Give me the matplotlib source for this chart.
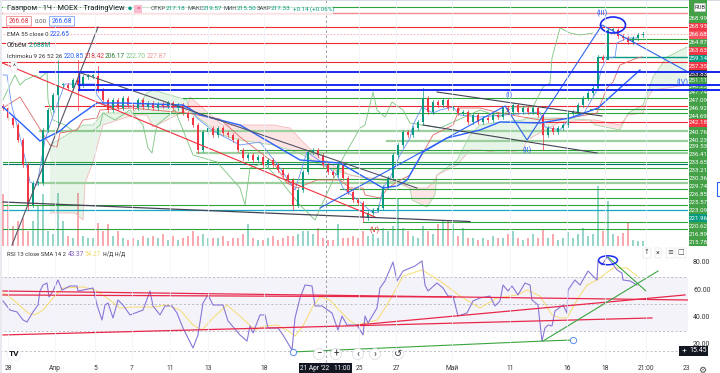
#!/usr/bin/env python3
import matplotlib
matplotlib.use("Agg")
import matplotlib.pyplot as plt
from matplotlib.patches import Ellipse, Circle, FancyBboxPatch, Rectangle

plt.rcParams["font.family"] = ["Roboto", "DejaVu Sans"]

UP = "#089981"
DOWN = "#f23645"
GREEN = "#2fa33b"
BLUE = "#1a2bef"
TV_BLUE = "#2962ff"

# hourly closes, one per candle
closes = [
    248.18, 245.68, 243.93, 240.18, 233.93, 223.93, 229.43, 229.43, 242.68, 247.68,
    251.43, 253.93, 253.93, 253.18, 255.18, 253.93, 255.93, 256.18, 256.18, 252.68,
    250.18, 247.68, 250.18, 248.18, 250.68, 248.93, 248.18, 250.18, 248.43, 249.43,
    248.18, 249.18, 248.68, 249.43, 248.18, 248.93, 246.93, 245.68, 243.93, 237.68,
    242.18, 243.18, 241.43, 243.18, 241.93, 241.43, 240.18, 237.68, 235.68, 236.43,
    235.18, 235.93, 233.93, 235.18, 233.93, 232.68, 231.43, 230.18, 223.93, 227.68,
    232.18, 237.18, 237.68, 236.43, 233.93, 232.18, 231.43, 233.93, 230.68, 227.18,
    225.18, 224.43, 220.68, 221.93, 222.68, 223.18, 228.43, 230.68, 236.43, 238.93,
    242.18, 241.43, 243.18, 244.68, 250.68, 247.18, 249.68, 248.93, 250.18, 248.18,
    248.18, 246.93, 247.18, 244.68, 246.43, 244.68, 245.68, 245.18, 246.43, 245.93,
    248.18, 247.18, 248.93, 247.18, 248.18, 247.18, 248.18, 246.43, 241.43, 243.18,
    242.18, 243.18, 243.93, 246.93, 247.18, 248.93, 250.68, 251.93, 253.18, 260.93,
    260.18, 267.68, 267.68, 266.18, 265.68, 264.68, 265.68, 266.43, 266.68,
]
wick_highs = {11: 261.43, 15: 260.18, 19: 258.68, 84: 253.18}
wick_lows = {5: 222.68, 11: 243.93, 15: 247.68, 39: 236.93, 58: 222.68, 72: 219.68,
             108: 237.68, 121: 262.68}
# volume in millions
volumes = [
    28.1, 22.7, 10.8, 13.5, 15.1, 8.1, 13.5, 21.6, 28.1, 8.1,
    6.5, 28.6, 13.5, 5.4, 4.3, 28.6, 5.4, 4.3, 4.3, 12.4,
    8.1, 11.9, 5.4, 8.1, 4.3, 3.2, 4.3, 3.2, 5.4, 4.3,
    5.4, 4.3, 6.5, 3.2, 5.4, 3.2, 4.3, 5.4, 8.1, 5.4,
    6.5, 4.3, 4.3, 4.3, 5.4, 2.7, 4.3, 4.3, 6.5, 11.9,
    4.3, 3.2, 3.2, 4.3, 5.4, 3.2, 4.3, 5.4, 5.4, 6.5,
    8.1, 8.1, 6.5, 9.7, 4.3, 3.2, 3.2, 11.9, 4.3, 4.3,
    5.4, 4.3, 8.1, 5.4, 6.5, 4.3, 9.7, 8.1, 10.8, 25.9,
    9.7, 8.1, 5.4, 4.3, 10.8, 8.1, 6.5, 11.9, 13.5, 13.5,
    11.9, 5.4, 9.7, 4.3, 4.3, 3.2, 4.3, 3.2, 5.4, 4.3,
    4.3, 6.5, 8.1, 4.3, 3.2, 4.3, 6.5, 4.3, 9.2, 4.3,
    6.5, 3.2, 4.3, 7.6, 4.3, 6.5, 9.7, 5.4, 6.5, 32.4,
    8.1, 24.3, 6.5, 5.4, 7.0, 12.4, 3.2, 2.7, 2.7,
]

ema_x = [3, 23, 40, 60, 70, 97, 123, 183, 200, 240, 300, 340, 383, 397, 407, 423, 447, 480,
         500, 540, 570, 598, 620, 640]
ema = [248.43, 243.93, 239.93, 242.43, 244.68, 249.43, 249.43, 248.93, 246.43, 243.93,
       235.18, 234.43, 228.18, 228.68, 230.18, 237.18, 240.68, 242.68, 244.68, 244.43,
       245.68, 248.18, 253.18, 257.68]

tenkan_x = [3, 7, 12, 17, 25, 30, 37, 45, 55, 65, 95, 97, 105, 190, 197, 213, 240, 260, 280,
            295, 307, 323, 337, 343, 373, 378, 383, 390, 400, 410, 413, 422, 433, 440, 453,
            460, 480, 540, 545, 560, 570, 583, 597, 601, 607, 615, 617, 627, 637]
tenkan = [256.43, 256.43, 248.43, 243.93, 235.68, 229.68, 228.93, 240.18, 247.68, 254.18,
          254.18, 251.43, 248.93, 248.18, 245.68, 242.43, 238.93, 239.68, 233.18, 227.68,
          237.18, 234.43, 231.43, 228.18, 221.93, 222.18, 228.18, 230.68, 236.43, 240.68,
          243.93, 248.43, 246.93, 247.68, 248.43, 246.43, 245.93, 247.18, 243.43, 242.68,
          245.68, 246.43, 252.68, 257.68, 260.68, 260.93, 264.43, 265.68, 265.68]

kijun_x = [3, 20, 50, 57, 60, 77, 83, 97, 100, 130, 187, 220, 240, 257, 273, 287, 297, 317,
           340, 350, 363, 365, 380, 388, 397, 410, 420, 433, 453, 460, 480, 500, 540, 570,
           597, 607, 613, 620, 637, 642]
kijun = [248.18, 250.93, 238.93, 238.43, 241.93, 242.68, 245.18, 245.68, 247.68, 248.18,
         246.93, 245.43, 240.93, 237.68, 234.68, 229.43, 228.18, 230.18, 230.18, 228.18,
         228.18, 226.43, 225.68, 228.18, 229.68, 231.43, 235.68, 241.43, 243.93, 248.18,
         248.18, 246.93, 245.18, 245.68, 246.93, 253.18, 254.68, 258.93, 260.68, 260.93]

chikou_x = [3, 10, 15, 20, 25, 30, 35, 40, 47, 48, 53, 65, 73, 93, 100, 103, 115, 130, 143,
            148, 152, 155, 157, 175, 193, 217, 240, 245, 250, 263, 280, 300, 315, 343, 360,
            365, 373, 377, 385, 392, 403, 410, 440, 480, 500, 513, 533, 543, 550, 552, 560,
            570, 580, 593]
chikou = [250.18, 253.93, 256.43, 253.93, 255.18, 255.68, 256.43, 255.68, 257.18, 250.18,
          245.18, 243.93, 242.43, 242.43, 243.93, 246.93, 245.18, 247.68, 243.93, 238.18,
          236.93, 241.43, 243.93, 247.68, 236.43, 234.68, 228.18, 223.93, 233.18, 234.43,
          230.18, 223.93, 220.18, 235.68, 243.18, 243.93, 252.18, 247.68, 245.93, 249.68,
          247.68, 244.43, 243.18, 247.68, 245.93, 248.43, 248.43, 253.43, 254.43, 260.68,
          268.18, 266.93, 266.43, 266.93]

span_x = [50, 75, 83, 85, 93, 103, 133, 147, 153, 187, 190, 222, 240, 273, 290, 303, 320, 350,
          360, 395, 410, 412, 427, 435, 437, 457, 470, 480, 500, 523, 527, 560, 590, 595, 620,
          628, 643, 648, 653, 667, 687]
span_a = [238.93, 242.68, 243.93, 243.93, 243.93, 246.93, 246.93, 251.93, 252.68, 250.18,
          247.18, 241.43, 240.18, 238.93, 237.68, 236.43, 233.93, 231.43, 230.93, 229.68,
          228.18, 225.18, 223.43, 226.43, 231.43, 235.18, 241.43, 243.93, 244.68, 245.18,
          245.68, 245.68, 245.18, 243.93, 242.68, 246.93, 248.93, 252.18, 255.93, 260.93,
          263.43]
span_b = [221.93, 221.93, 220.18, 229.43, 234.68, 243.93, 246.43, 246.43, 243.43, 247.68,
          250.93, 243.93, 243.93, 243.93, 243.18, 239.68, 235.68, 231.43, 230.93, 230.18,
          228.18, 228.18, 228.18, 230.18, 231.43, 233.93, 237.68, 237.68, 236.93, 237.68,
          240.18, 244.68, 245.18, 245.18, 243.93, 246.43, 246.93, 250.93, 252.68, 253.18,
          253.93]

# horizontal levels: price and left end of each
red_levels = [268.31, 264.36, 259.80, 248.76, 244.76]
red_starts = [0, 0, 0, 45, 520]
green_levels = [273.31, 265.36, 250.68, 247.86, 246.86, 237.60, 234.76, 233.10, 230.36,
                227.86, 225.60, 223.86, 219.76, 217.86]
green_starts = [0, 627, 183, 590, 132, 240, 3, 240, 285, 340, 340, 3, 363, 3]
pale_levels = [242.36, 239.93, 236.86, 229.36]
pale_starts = [40, 387, 197, 40]
blue_levels = [257.18, 254.00, 252.68]
blue_starts = [40, 79, 79]

rsi_x = [3, 10, 17, 23, 27, 33, 38, 40, 43, 47, 49, 53, 58, 62, 70, 77, 78, 93, 97, 102, 105,
         108, 113, 118, 123, 130, 143, 150, 153, 160, 165, 172, 177, 183, 193, 198, 203, 208,
         213, 223, 228, 240, 247, 250, 253, 260, 265, 268, 278, 283, 292, 295, 300, 305, 312,
         315, 322, 332, 338, 342, 347, 357, 363, 365, 368, 377, 380, 385, 393, 397, 400, 403,
         415, 422, 425, 428, 437, 443, 448, 453, 458, 467, 473, 480, 490, 495, 500, 503, 508,
         512, 518, 525, 530, 532, 538, 542, 545, 548, 552, 555, 563, 567, 568, 575, 580, 588,
         597, 598, 602, 607, 612, 617, 622, 623, 630, 637]
rsi = [52.1, 45.4, 44.0, 38.1, 36.6, 44.0, 49.1, 59.4, 63.8, 65.3, 55.0, 59.4, 67.5, 60.1,
       63.1, 63.1, 59.4, 61.6, 49.1, 38.1, 49.1, 50.6, 39.6, 52.8, 49.1, 41.8, 45.4, 59.4,
       48.4, 41.8, 48.4, 48.4, 43.2, 32.2, 17.5, 27.1, 50.6, 56.5, 49.1, 49.1, 37.4, 27.1,
       22.6, 33.7, 28.5, 41.8, 41.8, 32.2, 32.2, 27.1, 16.0, 39.6, 54.3, 63.8, 63.1, 48.4,
       48.4, 43.2, 30.7, 41.0, 34.4, 34.4, 27.1, 41.0, 35.9, 46.9, 61.6, 66.8, 80.7, 66.8,
       70.4, 74.1, 77.8, 81.5, 63.8, 59.4, 65.3, 61.6, 55.7, 55.7, 41.0, 43.2, 52.1, 54.3,
       55.7, 48.4, 52.1, 63.8, 59.4, 63.1, 56.5, 65.3, 63.8, 52.8, 49.1, 22.6, 32.2, 34.4,
       33.7, 44.7, 49.1, 43.2, 60.1, 67.5, 63.8, 74.1, 67.5, 81.5, 78.5, 84.4, 80.0, 74.9,
       72.6, 67.5, 66.8, 63.8]
rsi_ma_x = [3, 7, 17, 28, 35, 43, 53, 63, 83, 95, 107, 120, 133, 153, 167, 180, 193, 202, 213,
            227, 240, 255, 265, 277, 287, 295, 303, 312, 320, 330, 337, 350, 357, 377, 387,
            403, 422, 440, 460, 480, 497, 517, 527, 540, 552, 560, 567, 577, 587, 597, 613,
            627, 637]
rsi_ma = [57.9, 56.5, 50.6, 43.2, 41.8, 45.4, 54.3, 61.6, 62.4, 60.1, 54.3, 46.9, 47.6, 47.6,
          49.1, 45.4, 34.4, 30.7, 39.6, 49.1, 41.0, 30.7, 33.7, 34.4, 30.7, 26.3, 33.7, 46.9,
          55.0, 52.8, 46.9, 37.4, 34.4, 38.1, 49.1, 70.4, 74.9, 66.8, 55.7, 46.9, 54.3, 56.5,
          60.1, 55.7, 41.8, 39.6, 39.6, 52.8, 63.8, 67.5, 76.3, 76.3, 70.4]

price_labels = ["268.99", "268.93", "266.68", "264.87", "263.63", "259.14", "257.35", "253.83",
                "251.11", "248.23", "247.74", "247.09", "246.92", "244.69", "242.18", "240.76",
                "240.23", "239.53", "236.41", "233.65", "233.21", "230.36", "229.74", "226.85",
                "225.57", "223.09", "221.96", "220.62", "216.89", "215.78"]
price_label_colors = ["g", "r", "p", "g", "r", "t", "r", "k", "g", "g", "g", "g", "g", "g", "r",
                      "g", "g", "g", "g", "g", "g", "g", "g", "g", "g", "g", "t", "g", "g", "g"]
date_labels = ["28", "Апр", "5", "7", "11", "13", "18", "25", "27", "Май", "11", "16", "18",
               "21:00", "23"]
date_positions = [8, 55, 95, 132, 170, 208, 264, 359, 396, 452, 510, 567, 605, 646, 686]
rsi_ticks = [80, 60, 40, 20]

W, H = 720, 373
fig = plt.figure(figsize=(W / 100, H / 100), dpi=100)

ax = fig.add_axes([0, 1 - 246 / H, 688 / W, 246 / H])
ax.set_xlim(0, 688)
ax.set_ylim(213.68, 275.18)
ax.axis("off")
vol_ax = fig.add_axes([0, 1 - 246 / H, 688 / W, 246 / H], zorder=-1)
vol_ax.set_xlim(0, 688)
vol_ax.set_ylim(0, 132.84)
vol_ax.axis("off")
rsi_ax = fig.add_axes([0, 1 - 360 / H, 688 / W, 114 / H])
rsi_ax.set_xlim(0, 688)
rsi_ax.set_ylim(80 - 97 / 1.36, 80 + 17 / 1.36)
rsi_ax.axis("off")
over = fig.add_axes([0, 0, 1, 1], zorder=10)
over.set_xlim(0, W)
over.set_ylim(H, 0)
over.axis("off")
over.patch.set_alpha(0)

# faint vertical grid
for px in date_positions[:-1]:
    over.axvline(px, ymin=13 / H, ymax=1, color="#f0f3fa", lw=0.5, zorder=0)

xs = [3 + 5 * i for i in range(len(closes))]
opens = [closes[0] + 0.5] + closes[:-1]

# cloud
ax.fill_between(span_x, span_a, span_b, where=[a >= b for a, b in zip(span_a, span_b)],
                interpolate=True, color="#4caf50", alpha=0.13, lw=0)
ax.fill_between(span_x, span_a, span_b, where=[a < b for a, b in zip(span_a, span_b)],
                interpolate=True, color="#f23645", alpha=0.13, lw=0)
ax.plot(span_x, span_a, color="#a5d6a7", lw=0.6)
ax.plot(span_x, span_b, color="#f5b9bd", lw=0.6)

# volume
vol_colors = [UP if c >= o else DOWN for c, o in zip(closes, opens)]
vol_ax.bar(xs, volumes, width=2, color=vol_colors, alpha=0.42, lw=0)

# levels
for lvl, x0 in zip(pale_levels, pale_starts):
    ax.plot([x0, 688], [lvl, lvl], color="#9bd09e", lw=1.6)
for lvl, x0 in zip(green_levels, green_starts):
    ax.plot([x0, 688], [lvl, lvl], color=GREEN, lw=0.8)
for lvl, x0 in zip(red_levels, red_starts):
    ax.plot([x0, 688], [lvl, lvl], color="#ea2a35", lw=0.8)
ax.plot([0, 688], [272.0, 272.0], color="#f08a90", lw=1.0)
ax.plot([0, 688], [266.68, 266.68], color="#f7a6ab", lw=0.6, ls=(0, (2, 2)))
ax.plot([599, 688], [261.0, 261.0], color=UP, lw=1.0)
ax.plot([3, 688], [234.11, 234.11], color="#00796b", lw=0.8)
ax.plot([3, 688], [222.6, 222.6], color="#17a9c4", lw=0.9)
for lvl, x0 in zip(blue_levels, blue_starts):
    ax.plot([x0, 720], [lvl, lvl], color=BLUE, lw=1.4, clip_on=False, zorder=6)
ax.plot([79, 79], [252.68, 257.18], color=BLUE, lw=1.0)

ax.plot(chikou_x, chikou, color="#7cc480", lw=0.6)
ax.plot(kijun_x, kijun, color="#dd6b67", lw=0.6)
ax.plot(tenkan_x, tenkan, color="#6e92f2", lw=0.6)

# candles
for i, (x, o, c) in enumerate(zip(xs, opens, closes)):
    col = UP if c >= o else DOWN
    hi = wick_highs.get(i, max(o, c) + 0.4)
    lo = wick_lows.get(i, min(o, c) - 0.4)
    ax.plot([x, x], [lo, hi], color=col, lw=0.5, zorder=4)
    ax.bar(x, max(abs(c - o), 0.2), bottom=min(o, c), width=2, color=col, lw=0, zorder=4)

ax.plot(ema_x, ema, color=TV_BLUE, lw=1.0, zorder=5)

# drawn trend lines
ax.plot([12, 98], [213.93, 268.43], color="#555566", lw=0.8, zorder=5)
ax.plot([0, 375], [259.68, 220.93], color="#f2313f", lw=0.8, zorder=5)
ax.plot([78, 417], [257.18, 228.18], color="#555566", lw=0.8, zorder=5)
ax.plot([3, 470], [224.68, 219.8], color="#444455", lw=0.9, zorder=5)
ax.plot([437, 602], [252.18, 246.18], color="#444455", lw=0.8, zorder=5)
ax.plot([423, 597], [243.93, 236.93], color="#444455", lw=0.8, zorder=5)
ax.plot([320, 505, 527, 602, 688], [223.18, 248.68, 240.18, 268.93, 257.18],
        color="#2f62ee", lw=0.8, zorder=5)
ax.add_patch(Ellipse((613, 268.93), 25, 4, fill=False, ec=BLUE, lw=1.2, zorder=6))

# RSI pane
rsi_ax.axhspan(30, 70, color="#7e57c2", alpha=0.07, lw=0)
for lvl in [70, 50, 30, 15.45]:
    rsi_ax.axhline(lvl, color="#a6a6b0", lw=0.5, ls=(0, (3, 3)))
rsi_ax.plot(rsi_ma_x, rsi_ma, color="#f5dc6e", lw=0.7)
rsi_ax.plot(rsi_x, rsi, color="#8a76d6", lw=0.8)
rsi_ax.plot([3, 688], [59.4, 52.8], color="#e8284a", lw=0.9)
rsi_ax.plot([3, 455], [56.5, 55.0], color="#e8284a", lw=0.9)
rsi_ax.plot([3, 652], [27.1, 39.6], color="#e8284a", lw=0.9)
rsi_ax.plot([357, 685], [34.4, 56.5], color="#e8284a", lw=0.9)
rsi_ax.plot([293, 543, 573], [14.6, 22.6, 23.4], color="#3aa63f", lw=0.8)
rsi_ax.plot([543, 658], [22.6, 74.1], color="#3aa63f", lw=0.8)
rsi_ax.plot([608, 646], [84.4, 59.4], color="#3aa63f", lw=0.8)
rsi_ax.plot([293, 573], [14.6, 23.4], ls="", marker="o", ms=4.5, mfc="white", mec="#5b8def", mew=0.7)
rsi_ax.add_patch(Ellipse((608, 82), 19, 6.6, fill=False, ec=BLUE, lw=1.1, zorder=6))

# crosshair
over.plot([325.7, 325.7], [0, 362], color="#8a8a94", lw=0.6, ls=(0, (3, 3)), zorder=1)

# price axis stack
over.add_patch(Rectangle((689, 0), 18, 246, color="#43a047", lw=0, zorder=2))
color_map = {"g": "#43a047", "r": "#f23645", "p": "#f7525f", "t": "#089981", "k": "#2a2e39"}
label_ys = [19, 27, 35, 43, 50.5, 58.5, 66, 74, 80.5, 86.5, 93, 100, 108, 116, 123, 132, 140, 147,
            155, 163, 171, 179, 187, 194, 202, 210, 218, 226, 234, 242]
for txt, c, y in zip(price_labels, price_label_colors, label_ys):
    over.add_patch(Rectangle((689, y - 4), 18, 8, color=color_map[c], lw=0, zorder=3))
    over.text(698, y, txt, color="white", fontsize=4.4, ha="center", va="center", zorder=4)
# blue levels run on over the axis
for y in [72, 84.7, 90]:
    over.plot([689, 720], [y, y], color=BLUE, lw=1.4, zorder=5)
over.add_patch(FancyBboxPatch((695, 4), 10, 7, boxstyle="round,pad=0.5", fc="white", ec="#c8ccd6",
                              lw=0.4, zorder=5))
over.text(700, 7.7, "RUB", fontsize=4.2, color="#333", ha="center", va="center", zorder=6)
over.add_patch(Rectangle((717, 182), 4, 14, fill=False, ec=TV_BLUE, lw=0.8))

# header
over.add_patch(Rectangle((0, 0), W, 1.3, color="#d8dbe2", lw=0))
over.add_patch(Rectangle((0, 0), 1.5, H, color="#e8eaf0", lw=0))
over.add_patch(Rectangle((3, 3.5), 330, 10, color="white", alpha=0.75, lw=0))
over.text(7, 8.7, "Газпром · 1Ч · MOEX · TradingView", fontsize=5.3, color="#131722", va="center")
over.add_patch(Circle((130, 8.3), 1.8, color=UP, lw=0))
over.add_patch(Rectangle((134, 4.5), 8, 8, color="#f8bbd0", lw=0))
over.text(138, 8.3, "=", fontsize=4.5, color="#c2185b", ha="center", va="center")
ohlc_names = ["ОТКР", "МАКС", "МИН", "ЗАКР"]
ohlc_name_x = [151, 187, 223, 257]
ohlc_vals = ["217.18", "219.57", "215.50", "217.33"]
ohlc_val_x = [166, 203, 237, 271]
for name, nx, val, vx in zip(ohlc_names, ohlc_name_x, ohlc_vals, ohlc_val_x):
    over.text(nx, 8.7, name, fontsize=4.2, color="#4a4e5a", va="center")
    over.text(vx, 8.7, val, fontsize=4.6, color=UP, va="center")
over.text(293, 8.7, "+0.14 (+0.06%)", fontsize=4.4, color=UP, va="center")

over.add_patch(FancyBboxPatch((7, 17), 24, 8.5, boxstyle="round,pad=0.5", fc="white", ec="#f28b92", lw=0.6))
over.text(19, 21.3, "266.68", fontsize=4.8, color="#d93843", ha="center", va="center")
over.text(41, 21.3, "0.00", fontsize=4.4, color="#555", ha="center", va="center")
over.add_patch(FancyBboxPatch((50, 17), 24, 8.5, boxstyle="round,pad=0.5", fc="white", ec="#7da3f5", lw=0.6))
over.text(62, 21.3, "266.68", fontsize=4.8, color="#2962ff", ha="center", va="center")

over.text(7, 34.5, "EMA 55 close 0", fontsize=4.3, color="#333", va="center",
          bbox=dict(fc="white", ec="none", alpha=0.75, pad=0.8))
over.text(50, 34.5, "222.65", fontsize=4.7, color=TV_BLUE, va="center")
over.text(7, 45.7, "Объём", fontsize=4.7, color="#333", va="center",
          bbox=dict(fc="white", ec="none", alpha=0.75, pad=0.8))
over.text(29, 45.7, "2.688M", fontsize=4.7, color=UP, va="center")
over.text(7, 57, "Ichimoku 9 26 52 26", fontsize=4.4, color="#333", va="center",
          bbox=dict(fc="white", ec="none", alpha=0.75, pad=0.8))
ichi_vals = ["220.85", "218.42", "206.17", "222.70", "227.87"]
ichi_cols = [TV_BLUE, "#d9343f", "#2e7d32", "#81c784", "#ef9a9a"]
for v, c, x in zip(ichi_vals, ichi_cols, [64, 85, 105, 126, 147]):
    over.text(x, 57, v, fontsize=4.7, color=c, va="center")
over.text(14, 67, "^", fontsize=5, color="#333", ha="center", va="center",
          bbox=dict(fc="white", ec="#d5d8e0", lw=0.3, pad=1.2))

# wave marks
over.text(602, 13, "(III)", fontsize=5.5, color=TV_BLUE, ha="center", va="center")
over.text(509, 95, "(I)", fontsize=5.5, color=TV_BLUE, ha="center", va="center")
over.text(527, 150, "(II)", fontsize=5.5, color=TV_BLUE, ha="center", va="center")
over.text(375, 230, "(V)", fontsize=5.5, color="#d32f2f", ha="center", va="center")
over.text(683, 82, "(IV)", fontsize=5.5, color=TV_BLUE, ha="center", va="center")

# RSI title and axis
over.text(7, 254, "RSI 13 close SMA 14 2", fontsize=4.2, color="#333", va="center")
over.text(68, 254, "43.37", fontsize=4.7, color="#7e57c2", va="center")
over.text(85, 254, "54.27", fontsize=4.7, color="#f5dc6e", va="center")
over.text(103, 254, "н/д н/д", fontsize=4.7, color="#444", va="center")
for v in rsi_ticks:
    over.text(693, 263 + (80 - v) * 1.36, f"{v:.2f}", fontsize=5, color="#333", ha="left", va="center")
over.add_patch(Rectangle((679, 346), 29, 9.5, color="#131722", lw=0))
over.text(684, 350.5, "+", fontsize=6, color="white", ha="center", va="center")
over.text(698, 350.8, "15.45", fontsize=5, color="white", ha="center", va="center")
for x, s in zip([647, 658, 670, 681], ["↑", "×", "≡", "□"]):
    over.text(x, 253, s, fontsize=5, color="#444", ha="center", va="center",
              bbox=dict(fc="white", ec="#d5d8e0", lw=0.3, pad=1))

# navigation buttons
for x, s in zip([319, 336, 358, 375, 398], ["−", "+", "‹", "›", "↺"]):
    over.add_patch(Circle((x, 354), 5.5, fc="white", ec="#d5d8e0", lw=0.5, zorder=7))
    over.text(x, 353.6, s, fontsize=7, color="#333", ha="center", va="center", zorder=8)
over.add_patch(Circle((14, 354), 7, fc="white", ec="#e8eaf0", lw=0.4))
over.text(14, 354, "TV", fontsize=6, fontweight="bold", color="#131722", ha="center", va="center")

# time axis
for s, x in zip(date_labels, date_positions):
    over.text(x, 369, s, fontsize=4.8, color="#333", ha="center", va="center")
over.add_patch(Rectangle((299, 363), 53, 10, color="#131722", lw=0, zorder=7))
over.text(325.5, 368, "21 Apr '22   11:00", fontsize=4.7, color="white", ha="center", va="center", zorder=8)
over.text(702, 370, "⚙", fontsize=6.5, color="#444", ha="center", va="center")

fig.savefig("out.png", dpi=100)
